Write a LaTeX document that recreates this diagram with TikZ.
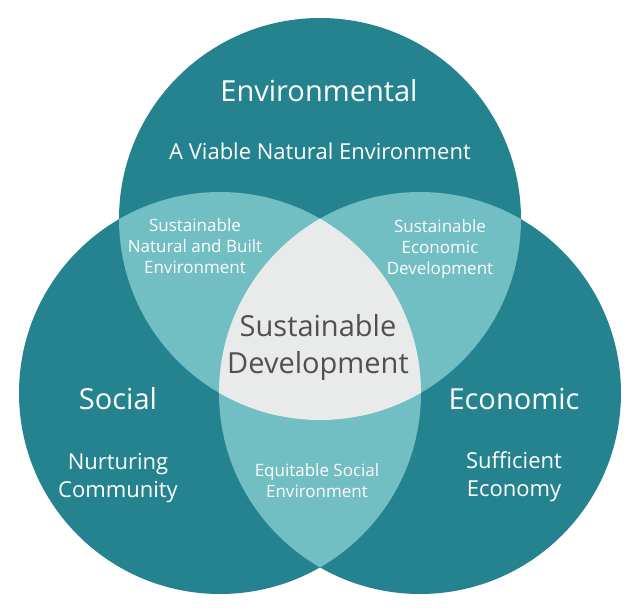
\documentclass[tikz,border=0pt]{standalone}
\usepackage{fontspec}
\setmainfont{Open Sans}
\definecolor{darkteal}{RGB}{37,131,143}
\definecolor{lightteal}{RGB}{113,190,195}
\definecolor{centergray}{RGB}{233,234,234}
\definecolor{textgray}{RGB}{80,80,80}

\begin{document}
\begin{tikzpicture}[x=1pt,y=-1pt,
  bigtext/.style={text=white,inner sep=0pt,font=\fontsize{29}{36}\selectfont},
  subtext/.style={text=white,inner sep=0pt,align=center,font=\fontsize{22}{28}\selectfont},
  lenstext/.style={text=white,inner sep=0pt,align=center,font=\fontsize{17}{21}\selectfont}]
\useasboundingbox (0,0) rectangle (640,612);
\coordinate (env) at (320,219);
\coordinate (soc) at (220,393);
\coordinate (eco) at (420,393);
% the three circles
\fill[darkteal] (env) circle (201pt) (soc) circle (201pt) (eco) circle (201pt);
% pairwise overlaps
\begin{scope}
\clip (env) circle (201pt);
\fill[lightteal] (soc) circle (201pt) (eco) circle (201pt);
\end{scope}
\begin{scope}
\clip (soc) circle (201pt);
\fill[lightteal] (eco) circle (201pt);
\end{scope}
% middle
\begin{scope}
\clip (env) circle (201pt);
\clip (soc) circle (201pt);
\fill[centergray] (eco) circle (201pt);
\end{scope}
\node[bigtext,anchor=base] (envtitle) at (319,102) {Environmental};
\node[subtext,anchor=base] (envsub) at (320,160) {A Viable Natural Environment};
\node[bigtext,anchor=base] (soctitle) at (118,409) {Social};
\node[subtext] (socsub) at (118,478) {Nurturing\\Community};
\node[bigtext,anchor=base] (ecotitle) at (514,409) {Economic};
\node[subtext] (ecosub) at (514,477) {Sufficient\\Economy};
\node[lenstext] (envsoc) at (195,246.5) {Sustainable\\Natural and Built\\Environment};
\node[lenstext] (enveco) at (440,249) {Sustainable\\Economic\\Development};
\node[lenstext] (soceco) at (317,480.5) {Equitable Social\\Environment};
\node[text=textgray,inner sep=0pt,align=center,font=\fontsize{29}{37}\selectfont] (sd) at (318,347.5) {Sustainable\\Development};
\end{tikzpicture}
\end{document}
